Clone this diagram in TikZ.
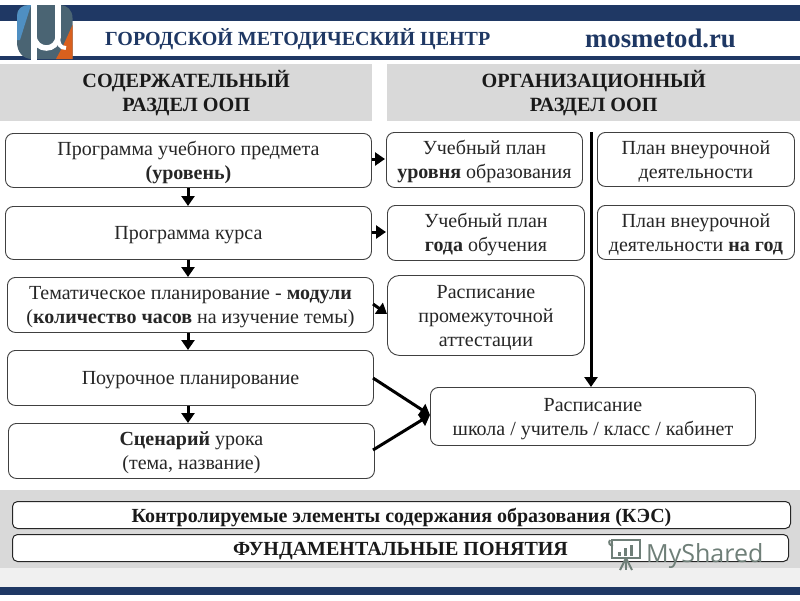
\documentclass[tikz,border=0pt]{standalone}
\usepackage{fontspec}
\setmainfont{Liberation Serif}
\newfontfamily\wmfont{Open Sans}
\usetikzlibrary{arrows.meta}
\definecolor{navy}{HTML}{1F3864}
\definecolor{bandgray}{HTML}{D9D9D9}
\definecolor{txt}{HTML}{262626}
\definecolor{wm}{HTML}{6F7F78}
\definecolor{logoblue}{HTML}{4F8FC2}
\definecolor{logoslate}{HTML}{4A6473}
\definecolor{logoorange}{HTML}{D9601E}
\newcommand{\firstline}{\rule{0pt}{19pt}}
\newcommand{\lastline}{\rule[-5pt]{0pt}{5pt}}
\tikzset{
  box/.style={draw=black!75,line width=0.9pt,rounded corners=8pt,fill=white,align=center,text=txt,inner sep=0pt,font=\fontsize{20}{24}\selectfont,anchor=north west},
  head/.style={fill=bandgray,align=center,inner sep=0pt,text=black!90,font=\fontsize{20.2}{24}\selectfont\bfseries,anchor=north west},
  wide/.style={draw=black!85,line width=1pt,rounded corners=5pt,fill=white,inner sep=0pt,text=black!90,font=\fontsize{20}{22}\selectfont\bfseries,anchor=north west,align=center},
  arr/.style={line width=3pt,black,-{Triangle[length=10pt,width=13pt]}},
  band/.style={inner sep=0pt,draw=none,anchor=north west}
}
\begin{document}
\begin{tikzpicture}[x=1pt,y=-1pt]
\useasboundingbox (0,0) rectangle (800,600);
\fill[white] (0,0) rectangle (800,600);
% top and bottom bands
\fill[navy] (0,5) rectangle (800,21);
\fill[navy] (0,56) rectangle (800,60);
\fill[bandgray] (0,490) rectangle (800,568);
\fill[black!6] (0,568) rectangle (800,587);
\fill[navy] (0,587) rectangle (800,595);
% logo
\fill[logoslate] (29,5) -- (60,5) .. controls (67,5) and (72.5,10) .. (72.5,18) -- (72.5,59) -- (32,59) .. controls (23,59) and (17,52) .. (17,42) -- (17,16) .. controls (17,9) and (22,5) .. (29,5) -- cycle;
\fill[logoblue] (29,5) .. controls (22,5) and (17,9) .. (17,16) -- (17,40) -- (20,40) -- (31,5) -- cycle;
\fill[logoorange] (72.5,25) -- (72.5,59) -- (56,59) -- (63,46) -- cycle;
\fill[white] (31,0) rectangle (37,65);
\draw[white,line width=5.5pt] (34,36) .. controls (35,52) and (58,52) .. (58,36);
\fill[white] (55,0) rectangle (61,38);
\draw[white,line width=4pt] (58,36) .. controls (58,44) and (60,48) .. (66,48);
% title
\node[band,text=navy,font=\fontsize{20}{22}\selectfont\bfseries,anchor=west] (title) at (105,39) {ГОРОДСКОЙ МЕТОДИЧЕСКИЙ ЦЕНТР};
\node[band,text=navy,font=\fontsize{26.7}{28}\selectfont\bfseries,anchor=west] (site) at (585,38) {mosmetod.ru};
% section headers
\node[head,minimum width=372pt,minimum height=57pt] (h1) at (0,64) {\firstline СОДЕРЖАТЕЛЬНЫЙ\\РАЗДЕЛ ООП\lastline};
\node[head,minimum width=413pt,minimum height=57pt] (h2) at (387,64) {\firstline ОРГАНИЗАЦИОННЫЙ\\РАЗДЕЛ ООП\lastline};
% left column
\node[box,minimum width=366pt,minimum height=54pt] (a1) at (5,133) {\firstline Программа учебного предмета\\\textbf{(уровень)}\lastline};
\node[box,minimum width=366pt,minimum height=53pt] (a2) at (5,206) {\firstline Программа курса\lastline};
\node[box,minimum width=366pt,minimum height=55pt] (a3) at (7,277) {\firstline Тематическое планирование - \textbf{модули}\\(\textbf{количество часов} на изучение темы)\lastline};
\node[box,minimum width=366pt,minimum height=55pt] (a4) at (7,350) {\firstline Поурочное планирование\lastline};
\node[box,minimum width=366pt,minimum height=55pt] (a5) at (8,423) {\firstline\textbf{Сценарий} урока\\(тема, название)\lastline};
% middle column
\node[box,minimum width=196pt,minimum height=55pt] (b1) at (386,132) {\firstline Учебный план\\\textbf{уровня} образования\lastline};
\node[box,minimum width=197pt,minimum height=55pt] (b2) at (387,205) {\firstline Учебный план\\\textbf{года} обучения\lastline};
\node[box,minimum width=197pt,minimum height=80pt,rounded corners=12pt] (b3) at (387,275) {\firstline Расписание\\промежуточной\\аттестации\lastline};
% right column
\node[box,minimum width=197pt,minimum height=54pt] (c1) at (597,132) {\firstline План внеурочной\\деятельности\lastline};
\node[box,minimum width=197pt,minimum height=54pt] (c2) at (597,205) {\firstline План внеурочной\\деятельности \textbf{на год}\lastline};
% schedule
\node[box,minimum width=325pt,minimum height=58pt] (s) at (430,387) {\firstline Расписание\\школа / учитель / класс / кабинет\lastline};
% wide boxes
\node[wide,minimum width=778pt,minimum height=27pt] (k1) at (12,501) {\firstline Контролируемые элементы содержания образования (КЭС)\lastline};
\node[wide,minimum width=776pt,minimum height=27pt] (k2) at (12,534) {\firstline ФУНДАМЕНТАЛЬНЫЕ ПОНЯТИЯ\lastline};
% arrows
\draw[arr] (a1.south -| 188,0) -- (a2.north -| 188,0);
\draw[arr] (a2.south -| 188,0) -- (a3.north -| 188,0);
\draw[arr] (a3.south -| 188,0) -- (a4.north -| 188,0);
\draw[arr] (a4.south -| 188,0) -- (a5.north -| 188,0);
\draw[arr] (a1.east |- 0,159) -- (385,159);
\draw[arr] (a2.east |- 0,232) -- (386,232);
\coordinate (q3) at (373,304);
\draw[arr] (q3) -- (b3.west |- 0,314);
\coordinate (q4) at (373,378);
\coordinate (q5) at (373,450);
\coordinate (sw) at (430,415);
\draw[arr] (q4) -- (sw);
\draw[arr] (q5) -- (sw);
\coordinate (top) at (591,132);
\draw[arr] (top) -- (s.north -| top);
% watermark
\begin{scope}[wm,line width=2pt]
\draw (612,540) -- (640,540) -- (640,558) -- (612,558) -- cycle;
\draw (610,540) .. controls (608,543) and (610,546) .. (613,545);
\fill (618,552) rectangle (621,556);
\fill (624,548) rectangle (627,556);
\fill (630,545) rectangle (633,556);
\draw (626,558) -- (620,570);
\draw (626,558) -- (626,570);
\draw (626,558) -- (632,570);
\end{scope}
\node[band,text=wm,font=\wmfont\fontsize{25}{28}\selectfont,anchor=west] (wmark) at (646,556) {MyShared};
\end{tikzpicture}
\end{document}
